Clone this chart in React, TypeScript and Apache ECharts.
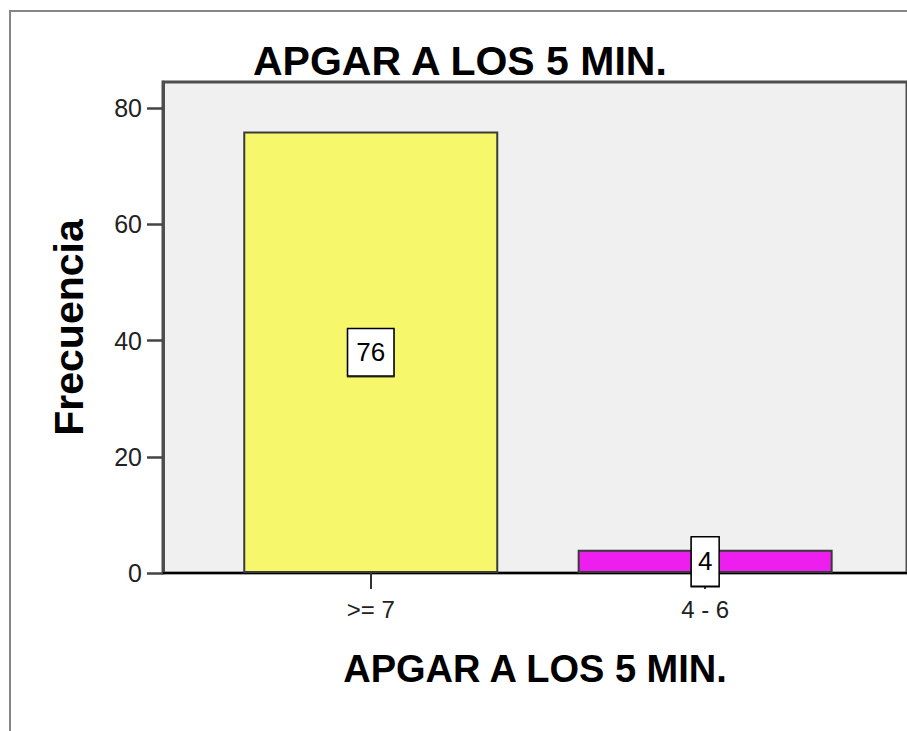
import React, { useEffect, useRef } from "react";
import * as echarts from "echarts";

const titleText = "APGAR A LOS 5 MIN.";
const xAxisName = "APGAR A LOS 5 MIN.";
const yAxisName = "Frecuencia";
const categories = [">= 7", "4 - 6"];
const frequencies = [76, 4];
const barColors = ["#f7f76c", "#ee1fee"];
const yTicks = [0, 20, 40, 60, 80];

const FONT = "'Liberation Sans', Arial, sans-serif";

export default function App() {
  const ref = useRef<HTMLDivElement>(null);
  useEffect(() => {
    if (!ref.current) return;
    const chart = echarts.init(ref.current, null, { renderer: "svg" });
    const labelPads = [
      [10, 8],
      [11, 6],
    ];
    chart.setOption({
      animation: false,
      backgroundColor: "#ffffff",
      textStyle: { fontFamily: FONT },
      title: {
        text: titleText,
        left: 253,
        top: 40,
        padding: 0,
        textStyle: { fontFamily: FONT, fontSize: 41, fontWeight: "bold", color: "#000" },
      },
      graphic: [
        {
          type: "rect",
          shape: { x: 10, y: 11, width: 1000, height: 1000 },
          style: { fill: "none", stroke: "#858585", lineWidth: 2 },
          silent: true,
        },
      ],
      grid: {
        left: 163,
        top: 82,
        width: 752,
        bottom: 158,
        show: true,
        backgroundColor: "#f0f0f0",
        borderColor: "#4e4e4e",
        borderWidth: 3,
      },
      xAxis: {
        type: "value",
        min: -0.6213,
        max: 1.6036,
        name: xAxisName,
        nameLocation: "middle",
        nameGap: 77,
        nameTextStyle: { fontFamily: FONT, fontSize: 38, fontWeight: "bold", color: "#000" },
        axisLine: { show: true, onZero: false, lineStyle: { color: "#000", width: 2 } },
        axisTick: {
          show: true,
          customValues: [0, 1],
          length: 16,
          lineStyle: { color: "#333", width: 2 },
        },
        axisLabel: {
          show: true,
          customValues: [0, 1],
          margin: 24,
          fontFamily: FONT,
          fontSize: 24,
          color: "#222",
          formatter: (v: number) => categories[Math.round(v)] ?? "",
        },
        splitLine: { show: false },
      },
      yAxis: {
        type: "value",
        min: 0,
        max: 84.5,
        name: yAxisName,
        nameLocation: "middle",
        nameGap: 74,
        nameRotate: 90,
        nameTextStyle: { fontFamily: FONT, fontSize: 41, fontWeight: "bold", color: "#000" },
        axisLine: { show: true, onZero: false, lineStyle: { color: "#4e4e4e", width: 3 } },
        axisTick: {
          show: true,
          customValues: yTicks,
          length: 16,
          lineStyle: { color: "#444", width: 2.5 },
        },
        axisLabel: {
          show: true,
          customValues: yTicks,
          margin: 21,
          fontFamily: FONT,
          fontSize: 25,
          color: "#222",
        },
        splitLine: { show: false },
      },
      series: [
        {
          type: "bar",
          barWidth: 255,
          data: frequencies.map((v, i) => ({
            value: [i, v],
            itemStyle: { color: barColors[i], borderColor: "#3a3a3a", borderWidth: 2 },
            label: { padding: labelPads[i] },
          })),
          label: {
            show: true,
            position: "inside",
            formatter: (p: any) => String(p.value[1]),
            fontFamily: FONT,
            fontSize: 26,
            color: "#000",
            backgroundColor: "#ffffff",
            borderColor: "#000",
            borderWidth: 1.5,
            shadowColor: "rgba(0,0,0,0.5)",
            shadowOffsetY: 1,
            shadowBlur: 1,
          },
        },
      ],
    });
    return () => chart.dispose();
  }, []);
  return (
    <div
      ref={ref}
      style={{ position: "fixed", left: 0, top: 0, width: 907, height: 731 }}
    />
  );
}
